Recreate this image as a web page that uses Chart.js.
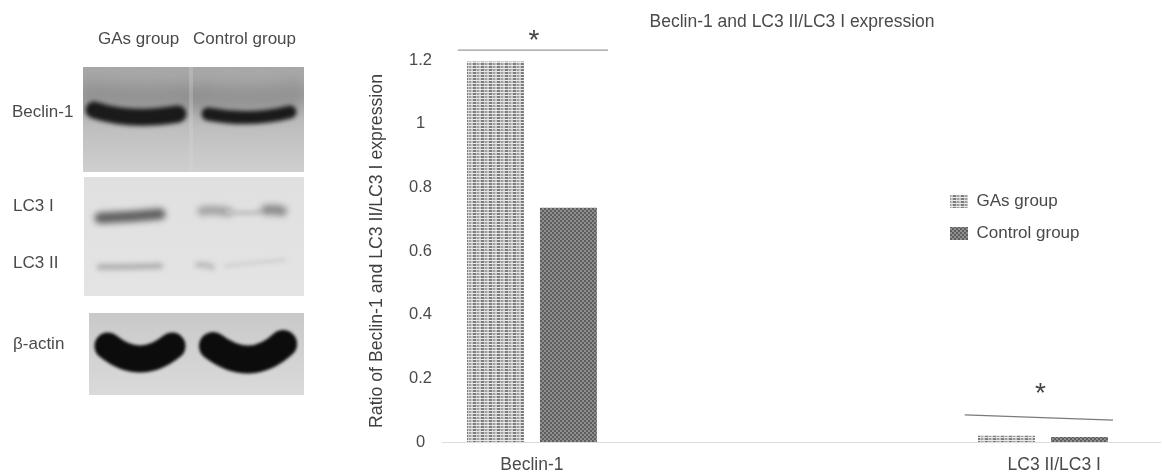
<!DOCTYPE html>
<html>
<head>
<meta charset="utf-8">
<title>Beclin-1 and LC3 II/LC3 I expression</title>
<script src="https://cdn.jsdelivr.net/npm/chart.js@4"></script>
<style>
  html, body { margin: 0; padding: 0; background: #fff; }
  #wrap { position: relative; width: 1162px; height: 473px; overflow: hidden; font-family: "Liberation Sans", Arial, sans-serif; color: #4a4a4a; }
  canvas { position: absolute; left: 0; top: 0; }
  #chart { filter: blur(0.45px); }
  #blots { filter: blur(0.3px); }
  .lbl { position: absolute; font-size: 17px; line-height: 18px; white-space: nowrap; }
</style>
</head>
<body>
<div id="wrap">
  <canvas id="blots" width="340" height="420"></canvas>
  <canvas id="chart" width="1162" height="473"></canvas>
  <div class="lbl" style="left:98px;top:30px">GAs group</div>
  <div class="lbl" style="left:193px;top:30px">Control group</div>
  <div class="lbl" style="left:12px;top:103px">Beclin-1</div>
  <div class="lbl" style="left:13px;top:197px">LC3 I</div>
  <div class="lbl" style="left:13px;top:254px">LC3 II</div>
  <div class="lbl" style="left:13px;top:335px">β-actin</div>
</div>
<script>
const categories = ["Beclin-1", "LC3 II/LC3 I"];
const categoryTickPositions = [0, 1.022];
const seriesNames = ["GAs group", "Control group"];
const gasValues = [1.195, 0.02];
const controlValues = [0.736, 0.016];
const yTicks = [0, 0.2, 0.4, 0.6, 0.8, 1, 1.2];
const chartTitle = "Beclin-1 and LC3 II/LC3 I expression";
const yTitle = "Ratio of Beclin-1 and LC3 II/LC3 I expression";

// significance lines, in axis units
const sigBeclin = [{ x: -0.145, y: 1.231 }, { x: 0.149, y: 1.231 }];
const sigLc3 = [{ x: 0.847, y: 0.085 }, { x: 1.137, y: 0.069 }];
const sigMarkBeclin = { x: 0.004, y: 1.26 };
const sigMarkLc3 = { x: 0.995, y: 0.15 };

// Fill patterns
function makePattern(w, h, paint) {
    const c = document.createElement("canvas");
    c.width = w; c.height = h;
    paint(c.getContext("2d"));
    return c.getContext("2d").createPattern(c, "repeat");
}

const dotted = makePattern(8, 3, g => {
    g.fillStyle = "#c6c6c6"; g.fillRect(0, 0, 8, 3);
    g.fillStyle = "#e8e8e8"; g.fillRect(0, 2, 8, 1);
    g.fillStyle = "#7c7c7c"; g.fillRect(1, 0, 3, 2);
    g.fillStyle = "#a0a0a0"; g.fillRect(5, 0, 2, 2);
});
const dense = makePattern(4, 4, g => {
    g.fillStyle = "#8f8f8f"; g.fillRect(0, 0, 4, 4);
    g.fillStyle = "#5e5e5e"; g.fillRect(0, 0, 2, 2); g.fillRect(2, 2, 2, 2);
});

// Western blot panels
function drawBlots() {
    const g = document.getElementById("blots").getContext("2d");

    function panel(x, y, w, h, top, bottom) {
        const grad = g.createLinearGradient(0, y, 0, y + h);
        grad.addColorStop(0, top);
        grad.addColorStop(1, bottom);
        g.fillStyle = grad;
        g.fillRect(x, y, w, h);
    }
    function band(pts, width, color, blur) {
        g.save();
        g.filter = `blur(${blur}px)`;
        g.strokeStyle = color;
        g.lineWidth = width;
        g.lineCap = "round";
        g.beginPath();
        g.moveTo(pts[0], pts[1]);
        g.quadraticCurveTo(pts[2], pts[3], pts[4], pts[5]);
        g.stroke();
        g.restore();
    }

    g.save();
    g.beginPath(); g.rect(83, 67, 221, 105); g.clip();
    panel(83, 67, 221, 105, "#a8a8a8", "#cfcfcf");
    band([88, 95, 135, 100, 182, 97], 30, "rgba(120,120,120,0.55)", 8);
    band([203, 97, 250, 102, 296, 95], 30, "rgba(120,120,120,0.55)", 8);
    band([94, 110, 130, 122, 178, 114], 17, "#1a1a1a", 2.2);
    band([208, 114, 250, 122, 290, 112], 13, "#1a1a1a", 2.2);
    g.fillStyle = "rgba(215,215,215,0.3)";
    g.fillRect(189, 67, 4, 105);
    g.restore();

    panel(84, 177, 220, 119, "#e0e0e0", "#e4e4e4");
    band([100, 218, 130, 217, 160, 214], 11, "#5f5f5f", 3.2);
    band([202, 211, 215, 209, 228, 212], 9, "#a2a2a2", 3);
    band([228, 212, 245, 214, 260, 212], 5, "#c2c2c2", 2);
    band([266, 210, 274, 209, 282, 211], 10, "#8a8a8a", 3);
    band([100, 267, 130, 267, 160, 266], 6, "#b0b0b0", 2.5);
    band([198, 265, 205, 264, 212, 267], 6, "#bcbcbc", 2.5);
    band([225, 266, 250, 263, 285, 260], 3, "#cccccc", 2);

    panel(89, 313, 215, 82, "#c9c9c9", "#dadada");
    band([108, 346, 140, 372, 172, 346], 27, "#0c0c0c", 1.8);
    band([213, 346, 250, 374, 283, 344], 28, "#0c0c0c", 1.8);
}
drawBlots();

const placeBoxes = {
    id: "placeBoxes",
    afterLayout(chart) {
        const lg = chart.legend;
        const w = lg.right - lg.left, h = lg.bottom - lg.top;
        lg.left = 935; lg.right = 935 + w;
        lg.top = 178; lg.bottom = 178 + h;
        const t = chart.titleBlock;
        const tw = t.right - t.left;
        t.left = 792 - tw / 2; t.right = 792 + tw / 2;
        t.top = 12; t.bottom = 32;
    }
};

const sigMarks = {
    id: "sigMarks",
    afterDatasetsDraw(chart) {
        const { ctx, scales: { x, y } } = chart;
        ctx.save();
        ctx.fillStyle = "#444";
        ctx.font = '28px "Liberation Sans"';
        ctx.textAlign = "center";
        ctx.textBaseline = "middle";
        [sigMarkBeclin, sigMarkLc3].forEach(m => {
            ctx.fillText("*", x.getPixelForValue(m.x), y.getPixelForValue(m.y));
        });
        ctx.restore();
    }
};

new Chart(document.getElementById("chart"), {
    type: "bar",
    data: {
        datasets: [
            {
                label: seriesNames[0],
                data: gasValues.map((v, i) => ({ x: i, y: v })),
                backgroundColor: dotted,
                categoryPercentage: 0.2857,
                barPercentage: 0.78
            },
            {
                label: seriesNames[1],
                data: controlValues.map((v, i) => ({ x: i, y: v })),
                backgroundColor: dense,
                categoryPercentage: 0.2857,
                barPercentage: 0.78
            },
            { type: "line", label: "sig1", data: sigBeclin, borderColor: "#9a9a9a", borderWidth: 1.4, pointRadius: 0, clip: false },
            { type: "line", label: "sig2", data: sigLc3, borderColor: "#7a7a7a", borderWidth: 1.2, pointRadius: 0, clip: false }
        ]
    },
    plugins: [placeBoxes, sigMarks],
    options: {
        responsive: false,
        animation: false,
        devicePixelRatio: 1,
        layout: { padding: { left: 366, right: 2, top: 39, bottom: 0 } },
        scales: {
            x: {
                type: "linear",
                offset: false,
                min: -0.176,
                max: 1.229,
                afterBuildTicks: axis => { axis.ticks = categoryTickPositions.map(v => ({ value: v })); },
                afterFit: axis => { axis.height = 31; },
                grid: { display: false, drawTicks: false },
                border: { color: "#dcdcdc", width: 1 },
                ticks: {
                    autoSkip: false,
                    maxRotation: 0,
                    padding: 13,
                    color: "#4a4a4a",
                    font: { family: "Liberation Sans", size: 17.5 },
                    callback: (v, i) => categories[i]
                }
            },
            y: {
                min: 0,
                max: 1.2,
                afterBuildTicks: axis => { axis.ticks = yTicks.map(v => ({ value: v })); },
                afterFit: axis => { axis.width = 76; },
                grid: { display: false, drawTicks: false },
                border: { display: false },
                ticks: {
                    padding: 10,
                    crossAlign: "center",
                    color: "#4a4a4a",
                    font: { family: "Liberation Sans", size: 16.5 },
                    callback: v => String(v)
                },
                title: {
                    display: true,
                    text: yTitle,
                    color: "#3f3f3f",
                    font: { family: "Liberation Sans", size: 17.7 },
                    padding: { top: 0, bottom: 14 }
                }
            }
        },
        plugins: {
            title: {
                display: true,
                text: chartTitle,
                fullSize: false,
                color: "#4a4a4a",
                font: { family: "Liberation Sans", size: 17.5, weight: "normal" },
                padding: 0
            },
            legend: {
                position: "chartArea",
                align: "start",
                labels: {
                    boxWidth: 18,
                    boxHeight: 13,
                    padding: 15,
                    color: "#4a4a4a",
                    font: { family: "Liberation Sans", size: 17 },
                    filter: item => seriesNames.includes(item.text)
                }
            },
            tooltip: { enabled: false }
        }
    }
});
</script>
</body>
</html>
